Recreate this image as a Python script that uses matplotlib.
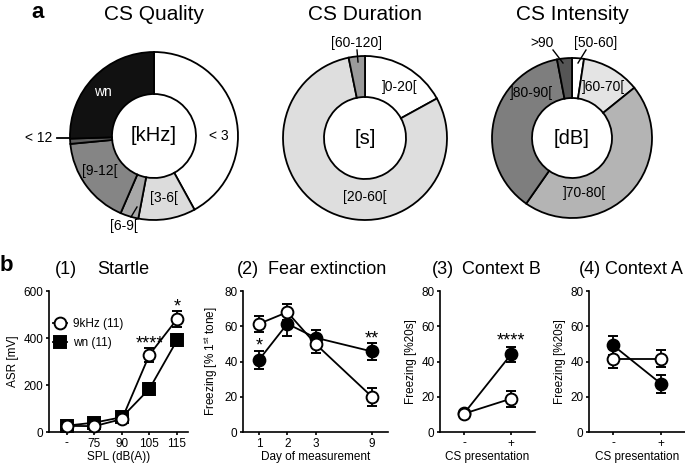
import matplotlib
matplotlib.use("Agg")
import matplotlib.pyplot as plt
from matplotlib.lines import Line2D
import numpy as np

plt.rcParams['font.family'] = ['Liberation Sans', 'DejaVu Sans']

W, H = 685, 465
DPI = 100

# ---------------- data: donuts ----------------
quality_labels = ['< 3', '[3-6[', '[6-9[', '[9-12[', '< 12', 'wn']
quality_values = [42, 11, 3.5, 17, 1, 25.5]
quality_colors = ['#ffffff', '#dcdcdc', '#a8a8a8', '#858585', '#5e5e5e', '#111111']

duration_labels = [']0-20[', '[20-60[', '[60-120]']
duration_values = [17, 79.8, 3.2]
duration_colors = ['#ffffff', '#dedede', '#9a9a9a']

intensity_labels = ['[50-60]', ']60-70[', ']70-80[', ']80-90[', '>90']
intensity_values = [2.4, 11.8, 45.5, 37.3, 3.0]
intensity_colors = ['#ffffff', '#e4e4e4', '#b4b4b4', '#7e7e7e', '#555555']

# ---------------- data: line panels ----------------
spl_labels = ['-', '75', '90', '105', '115']
startle_9k = [26, 25, 55, 329, 480]
startle_9k_err = [8, 8, 10, 30, 33]
startle_wn = [27, 40, 63, 184, 390]
startle_wn_err = [8, 10, 10, 25, 25]

day_labels = ['1', '2', '3', '9']
ext_9k = [61.4, 68, 50, 20]
ext_9k_err = [4.5, 4.5, 5, 5]
ext_wn = [41, 61.4, 53.5, 45.7]
ext_wn_err = [5, 7, 4.5, 5]

cs_labels = ['-', '+']
ctxB_9k = [10.4, 18.9]
ctxB_9k_err = [1.5, 4.5]
ctxB_wn = [10.5, 44]
ctxB_wn_err = [1.5, 4.5]

ctxA_9k = [41.6, 41.6]
ctxA_9k_err = [5.5, 5]
ctxA_wn = [49.2, 27.4]
ctxA_wn_err = [5.5, 5]

fig = plt.figure(figsize=(W / DPI, H / DPI), dpi=DPI)


def add_px_axes(left, top, width, height):
    return fig.add_axes([left / W, 1 - (top + height) / H, width / W, height / H])


def donut(cx, cy, R, values, colors, center_text):
    L = 1.6
    ax = add_px_axes(cx - L * R, cy - L * R, 2 * L * R, 2 * L * R)
    ax.pie(values, colors=colors, startangle=90, counterclock=False,
           wedgeprops=dict(width=0.5, edgecolor='black', linewidth=1.3))
    ax.set_xlim(-L, L)
    ax.set_ylim(-L, L)
    ax.set_aspect('auto')
    ax.axis('off')
    ax.text(0, 0, center_text, ha='center', va='center', fontsize=14.5)
    return ax


def to_rel(cx, cy, R, px, py):
    return ((px - cx) / R, (cy - py) / R)


# Quality donut
cx, cy, R = 154, 136, 84
ax = donut(cx, cy, R, quality_values, quality_colors, '[kHz]')
ax.text(-0.61, 0.52, 'wn', color='white', fontsize=10, ha='center', va='center')
ax.text(0.77, 0.0, quality_labels[0], fontsize=10, ha='center', va='center')
ax.text(0.12, -0.74, quality_labels[1], fontsize=10, ha='center', va='center')
ax.text(-0.64, -0.42, quality_labels[3], fontsize=10, ha='center', va='center')
x1, y1 = to_rel(cx, cy, R, 57, 138)
x2, y2 = to_rel(cx, cy, R, 70, 138)
ax.plot([x1, x2], [y1, y2], color='black', lw=1.3, clip_on=False)
ax.text(x1 - 0.05, y1, quality_labels[4], fontsize=10, ha='right', va='center')
x1, y1 = to_rel(cx, cy, R, 131, 217)
x2, y2 = to_rel(cx, cy, R, 137, 207)
ax.plot([x1, x2], [y1, y2], color='black', lw=1.0, clip_on=False)
tx, ty = to_rel(cx, cy, R, 124, 226)
ax.text(tx, ty, quality_labels[2], fontsize=10, ha='center', va='center')

# Duration donut
cx, cy, R = 365, 138, 82
ax = donut(cx, cy, R, duration_values, duration_colors, '[s]')
ax.text(0.42, 0.62, duration_labels[0], fontsize=10, ha='center', va='center')
ax.text(0.0, -0.72, duration_labels[1], fontsize=10, ha='center', va='center')
x1, y1 = to_rel(cx, cy, R, 357, 50)
x2, y2 = to_rel(cx, cy, R, 358, 62)
ax.plot([x1, x2], [y1, y2], color='black', lw=1.0, clip_on=False)
tx, ty = to_rel(cx, cy, R, 357, 43)
ax.text(tx, ty, duration_labels[2], fontsize=10, ha='center', va='center')

# Intensity donut
cx, cy, R = 572, 138, 80
ax = donut(cx, cy, R, intensity_values, intensity_colors, '[dB]')
ax.text(0.40, 0.64, intensity_labels[1], fontsize=10, ha='center', va='center')
ax.text(-0.50, 0.56, intensity_labels[3], fontsize=10, ha='center', va='center')
ax.text(0.16, -0.69, intensity_labels[2], fontsize=10, ha='center', va='center')
x1, y1 = to_rel(cx, cy, R, 553, 50)
x2, y2 = to_rel(cx, cy, R, 563, 63)
ax.plot([x1, x2], [y1, y2], color='black', lw=1.0, clip_on=False)
tx, ty = to_rel(cx, cy, R, 542, 43)
ax.text(tx, ty, intensity_labels[4], fontsize=10, ha='center', va='center')
x1, y1 = to_rel(cx, cy, R, 586, 50)
x2, y2 = to_rel(cx, cy, R, 578, 63)
ax.plot([x1, x2], [y1, y2], color='black', lw=1.0, clip_on=False)
tx, ty = to_rel(cx, cy, R, 596, 43)
ax.text(tx, ty, intensity_labels[0], fontsize=10, ha='center', va='center')

# Donut titles
for x, t in [(154, 'CS Quality'), (365, 'CS Duration'), (572, 'CS Intensity')]:
    fig.text(x / W, 1 - 14 / H, t, fontsize=15, ha='center', va='center')
fig.text(38 / W, 1 - 13 / H, 'a', fontsize=16, fontweight='bold', ha='center', va='center')
fig.text(6 / W, 1 - 265 / H, 'b', fontsize=16, fontweight='bold', ha='center', va='center')


# ---------------- line panels ----------------
def style_axes(ax):
    for s in ['top', 'right']:
        ax.spines[s].set_visible(False)
    for s in ['left', 'bottom']:
        ax.spines[s].set_linewidth(1.2)
    ax.tick_params(labelsize=8.5, width=1.2, length=2.5, pad=1.5)


def series(ax, x, y, e, filled, marker='o'):
    ax.errorbar(x, y, yerr=e, color='black', lw=1.3, capsize=3.5, capthick=1.3,
                elinewidth=1.3, marker=marker, markersize=8.5 if marker == 'o' else 8,
                markerfacecolor='black' if filled else 'white',
                markeredgecolor='black', markeredgewidth=1.4, zorder=3, clip_on=False)


STAR_FS = 13
top, bottom = 291, 432
XL_PAD = 1.2
# Panel 1
ax1 = add_px_axes(49, top, 139, bottom - top)
xp = np.arange(len(spl_labels))
series(ax1, xp, startle_wn, startle_wn_err, True, marker='s')
series(ax1, xp, startle_9k, startle_9k_err, False)
ax1.set_xlim(-0.65, 4.4)
ax1.set_ylim(0, 600)
ax1.set_yticks([0, 200, 400, 600])
ax1.set_xticks(xp)
ax1.set_xticklabels(spl_labels)
ax1.set_xlabel('SPL (dB(A))', fontsize=8.5, labelpad=XL_PAD)
ax1.set_ylabel('ASR [mV]', fontsize=8.5, labelpad=3)
style_axes(ax1)
ax1.text(3, 375, '****', ha='center', va='center', fontsize=STAR_FS)
ax1.text(4, 530, '*', ha='center', va='center', fontsize=STAR_FS)
h1 = Line2D([], [], color='black', lw=1.3, marker='o', markersize=8.5,
            markerfacecolor='white', markeredgewidth=1.4)
h2 = Line2D([], [], color='black', lw=1.3, marker='s', markersize=8,
            markerfacecolor='black', markeredgewidth=1.4)
ax1.legend([h1, h2], ['9kHz (11)', 'wn (11)'], loc='upper left', frameon=False,
           fontsize=8.5, handlelength=1.2, handletextpad=0.5, borderpad=0.0,
           borderaxespad=0.0, labelspacing=0.65, bbox_to_anchor=(0.03, 0.81))

# Panel 2
ax2 = add_px_axes(243, top, 145, bottom - top)
xd = np.array([1, 2, 3, 5])
series(ax2, xd, ext_wn, ext_wn_err, True)
series(ax2, xd, ext_9k, ext_9k_err, False)
ax2.set_xlim(0.43, 5.57)
ax2.set_ylim(0, 80)
ax2.set_yticks([0, 20, 40, 60, 80])
ax2.set_xticks(xd)
ax2.set_xticklabels(day_labels)
ax2.set_xlabel('Day of measurement', fontsize=8.5, labelpad=XL_PAD)
ax2.set_ylabel('Freezing [% 1$^{\\mathregular{st}}$ tone]', fontsize=8.5, labelpad=3)
style_axes(ax2)
ax2.text(1, 49, '*', ha='center', va='center', fontsize=STAR_FS)
ax2.text(5, 53, '**', ha='center', va='center', fontsize=STAR_FS)

# Panel 3
ax3 = add_px_axes(440, top, 95, bottom - top)
xc = np.arange(len(cs_labels))
series(ax3, xc, ctxB_wn, ctxB_wn_err, True)
series(ax3, xc, ctxB_9k, ctxB_9k_err, False)
ax3.set_xlim(-0.51, 1.51)
ax3.set_ylim(0, 80)
ax3.set_yticks([0, 20, 40, 60, 80])
ax3.set_xticks(xc)
ax3.set_xticklabels(cs_labels)
ax3.set_xlabel('CS presentation', fontsize=8.5, labelpad=XL_PAD)
ax3.set_ylabel('Freezing [%20s]', fontsize=8.5, labelpad=3)
style_axes(ax3)
ax3.text(1, 51.5, '****', ha='center', va='center', fontsize=STAR_FS)

# Panel 4
ax4 = add_px_axes(589, top, 96, bottom - top)
series(ax4, xc, ctxA_wn, ctxA_wn_err, True)
series(ax4, xc, ctxA_9k, ctxA_9k_err, False)
ax4.set_xlim(-0.5, 1.5)
ax4.set_ylim(0, 80)
ax4.set_yticks([0, 20, 40, 60, 80])
ax4.set_xticks(xc)
ax4.set_xticklabels(cs_labels)
ax4.set_xlabel('CS presentation', fontsize=8.5, labelpad=XL_PAD)
ax4.set_ylabel('Freezing [%20s]', fontsize=8.5, labelpad=3)
style_axes(ax4)

# Panel titles
for x, t in [(55, '(1)'), (123, 'Startle'), (237, '(2)'), (268, 'Fear extinction'),
             (432, '(3)'), (462, 'Context B'), (579, '(4)'), (605, 'Context A')]:
    ha = 'center' if t == 'Startle' else 'left'
    fig.text(x / W, 1 - 269 / H, t, fontsize=13, ha=ha, va='center')

fig.savefig('out.png', dpi=DPI)
